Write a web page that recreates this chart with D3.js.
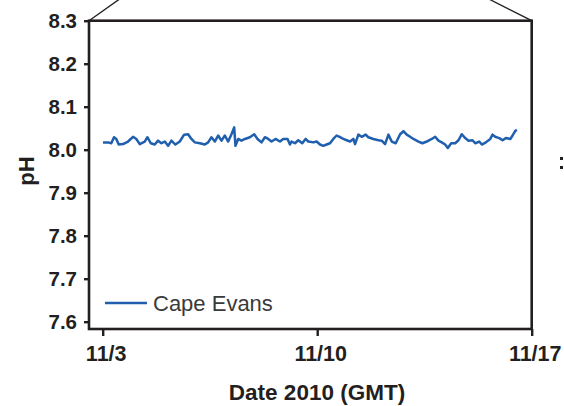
<!DOCTYPE html>
<html>
<head>
<meta charset="utf-8">
<script src="https://cdn.jsdelivr.net/npm/d3@7"></script>
<style>
  html, body { margin: 0; padding: 0; background: #fff; }
  svg { display: block; font-family: "Liberation Sans", Arial, Helvetica, sans-serif; }
</style>
</head>
<body>
<svg id="chart" width="564" height="406"></svg>
<script>
// ---- data (day of November 2010, GMT) ----
const seriesName = "Cape Evans";
const days = [
  3.010,3.173,3.281,3.369,3.444,3.523,3.663,3.827,3.990,4.098,
  4.209,4.373,4.458,4.569,4.699,4.807,4.915,5.026,5.134,5.242,
  5.373,5.516,5.657,5.788,5.895,6.007,6.170,6.333,6.441,6.549,
  6.660,6.768,6.876,6.987,7.095,7.203,7.291,7.333,7.422,7.529,
  7.641,7.804,7.944,8.052,8.183,8.294,8.402,8.510,8.641,8.784,
  8.892,9.033,9.111,9.163,9.275,9.382,9.513,9.621,
  9.709,9.873,9.980,10.092,10.199,10.307,10.418,10.526,10.634,10.745,
  10.853,10.961,11.072,11.180,11.235,11.343,11.451,11.582,11.670,11.833,
  11.997,12.105,12.216,12.324,12.431,12.562,12.706,12.814,12.922,13.033,
  13.141,13.304,13.435,13.575,13.739,13.850,13.958,14.065,14.176,14.261,
  14.373,14.503,14.611,14.719,14.830,14.938,15.069,15.157,15.288,15.373,
  15.503,15.647,15.722,15.810,15.941,16.049,16.157,16.301,16.376,16.464,
  16.516
];
const phValues = [
  8.017,8.017,8.015,8.029,8.025,8.012,8.013,8.019,8.030,8.025,
  8.013,8.019,8.029,8.015,8.012,8.021,8.015,8.019,8.009,8.021,
  8.012,8.019,8.035,8.036,8.025,8.017,8.015,8.012,8.017,8.029,
  8.019,8.033,8.021,8.033,8.019,8.036,8.052,8.009,8.025,8.021,
  8.025,8.029,8.036,8.025,8.017,8.029,8.025,8.019,8.025,8.019,
  8.025,8.025,8.012,8.019,8.015,8.022,8.015,8.025,
  8.019,8.017,8.019,8.012,8.009,8.012,8.015,8.025,8.033,8.029,
  8.025,8.022,8.019,8.025,8.013,8.035,8.030,8.035,8.029,8.025,
  8.022,8.021,8.013,8.035,8.019,8.015,8.036,8.043,8.035,8.030,
  8.025,8.019,8.015,8.019,8.025,8.030,8.021,8.017,8.012,8.004,
  8.015,8.015,8.022,8.036,8.027,8.021,8.022,8.015,8.019,8.012,
  8.017,8.025,8.035,8.030,8.027,8.022,8.027,8.025,8.033,8.044,
  8.046
];
const xTickDays = [3, 10, 17];
const xTickLabels = ["11/3", "11/10", "11/17"];
const yTicks = [7.6, 7.7, 7.8, 7.9, 8.0, 8.1, 8.2, 8.3];
const xDomainDays = [2.553, 17];
const yDomain = [7.583, 8.3];
const xTitle = "Date 2010 (GMT)";
const yTitle = "pH";

// ---- layout ----
const ink = "#231f20";
const lineColor = "#1f5fae";
const pLeft = 89, pRight = 531.7, pTop = 20.7, pBottom = 329;

const dayToDate = d => new Date(Date.UTC(2010, 10, 1) + (d - 1) * 864e5);

const x = d3.scaleUtc().domain(xDomainDays.map(dayToDate)).range([pLeft, pRight]);
const y = d3.scaleLinear().domain(yDomain).range([pBottom, pTop]);

const svg = d3.select("#chart");

// callout lines from the frame corners
svg.append("line").attr("x1", pLeft).attr("y1", pTop).attr("x2", pLeft + 30).attr("y2", -0.5)
  .attr("stroke", ink).attr("stroke-width", 1.4);
svg.append("line").attr("x1", pRight).attr("y1", pTop).attr("x2", pRight - 42).attr("y2", -0.5)
  .attr("stroke", ink).attr("stroke-width", 1.4);

// y axis
const yAxis = d3.axisLeft(y).tickValues(yTicks).tickFormat(d3.format(".1f")).tickSize(5).tickPadding(7);
const gy = svg.append("g").attr("transform", `translate(${pLeft},0)`).call(yAxis);
gy.select(".domain").remove();
gy.selectAll(".tick line").attr("stroke", ink).attr("stroke-width", 2.4);
gy.selectAll(".tick text").attr("fill", ink).attr("font-size", 20.5).attr("font-weight", "bold")
  .attr("font-family", "'Liberation Sans', Arial, sans-serif");

// x axis
const xAxis = d3.axisBottom(x).tickValues(xTickDays.map(dayToDate))
  .tickFormat((d, i) => xTickLabels[i]).tickSize(7).tickPadding(10);
const gx = svg.append("g").attr("transform", `translate(0,${pBottom})`).call(xAxis);
gx.select(".domain").remove();
gx.selectAll(".tick line").attr("stroke", ink).attr("stroke-width", 2.4);
gx.selectAll(".tick text").attr("fill", ink).attr("font-size", 21.5).attr("font-weight", "bold")
  .attr("font-family", "'Liberation Sans', Arial, sans-serif")
  .attr("dx", 3);

// frame
svg.append("rect").attr("x", pLeft).attr("y", pTop).attr("width", pRight - pLeft).attr("height", pBottom - pTop)
  .attr("fill", "none").attr("stroke", ink).attr("stroke-width", 2.6);

// data line
const data = days.map((d, i) => ({ t: dayToDate(d), v: phValues[i] }));
svg.append("path").datum(data)
  .attr("fill", "none").attr("stroke", lineColor).attr("stroke-width", 2.5)
  .attr("stroke-linejoin", "round")
  .attr("d", d3.line().x(d => x(d.t)).y(d => y(d.v)));

// legend
svg.append("line").attr("x1", 105).attr("x2", 147).attr("y1", 303).attr("y2", 303)
  .attr("stroke", lineColor).attr("stroke-width", 2.4);
svg.append("text").attr("x", 153).attr("y", 310.5).text(seriesName)
  .attr("font-size", 22).attr("fill", "#3a3a3a");

// axis titles
svg.append("text").attr("x", 317).attr("y", 400).attr("text-anchor", "middle")
  .attr("font-size", 22.5).attr("font-weight", "bold").attr("fill", ink).text(xTitle);
svg.append("text").attr("transform", "translate(34,171) rotate(-90)").attr("text-anchor", "middle")
  .attr("font-size", 22).attr("font-weight", "bold").attr("fill", ink).text(yTitle);

// fragment of neighbouring panel at the right edge
svg.append("rect").attr("x", 560).attr("y", 157).attr("width", 3).attr("height", 3).attr("fill", ink);
svg.append("rect").attr("x", 560).attr("y", 166).attr("width", 3).attr("height", 3).attr("fill", ink);
</script>
</body>
</html>
